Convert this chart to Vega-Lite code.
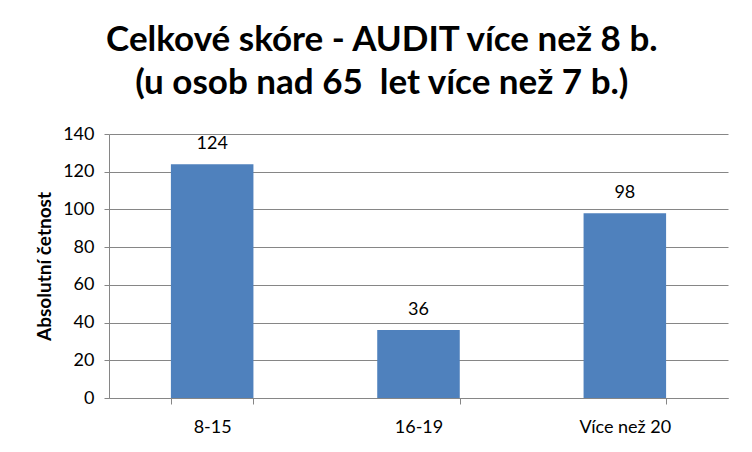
{
  "$schema": "https://vega.github.io/schema/vega-lite/v6.json",
  "autosize": {"type": "none"},
  "width": 619,
  "height": 264,
  "padding": {"left": 109, "top": 134, "right": 24, "bottom": 54},
  "background": "white",
  "title": {
    "text": ["Celkové skóre - AUDIT více než 8 b.", "(u osob nad 65\u00a0 let více než 7 b.)"],
    "font": "Lato",
    "fontSize": 35,
    "fontWeight": "bold",
    "color": "black",
    "lineHeight": 43,
    "anchor": "middle",
    "frame": "bounds",
    "offset": 24
  },
  "data": {
    "values": [
      {"kategorie": "8-15", "cetnost": 124},
      {"kategorie": "16-19", "cetnost": 36},
      {"kategorie": "Více než 20", "cetnost": 98}
    ]
  },
  "encoding": {
    "x": {
      "field": "kategorie",
      "type": "nominal",
      "sort": null,
      "scale": {"paddingInner": 0.6, "paddingOuter": 0.3},
      "axis": {
        "title": null,
        "labelAngle": 0,
        "labelFont": "Lato",
        "labelFontSize": 18,
        "labelColor": "black",
        "labelPadding": 14,
        "tickBand": "extent",
        "tickColor": "#868686",
        "tickSize": 6,
        "domainColor": "#868686",
        "grid": false
      }
    },
    "y": {
      "field": "cetnost",
      "type": "quantitative",
      "scale": {"domain": [0, 140]},
      "axis": {
        "title": "Absolutní četnost",
        "titleFont": "Lato",
        "titleFontSize": 19,
        "titleFontWeight": "bold",
        "titleColor": "black",
        "titlePadding": 8,
        "values": [0, 20, 40, 60, 80, 100, 120, 140],
        "labelFont": "Lato",
        "labelFontSize": 18,
        "labelColor": "black",
        "labelPadding": 10,
        "tickColor": "#868686",
        "tickSize": 5,
        "domainColor": "#868686",
        "gridColor": "#868686",
        "gridWidth": 1
      }
    }
  },
  "layer": [
    {"mark": {"type": "bar", "color": "#4F81BD"}},
    {
      "mark": {"type": "text", "dy": -20, "font": "Lato", "fontSize": 18, "color": "black"},
      "encoding": {"text": {"field": "cetnost", "type": "quantitative"}}
    }
  ],
  "config": {"view": {"stroke": null}}
}
